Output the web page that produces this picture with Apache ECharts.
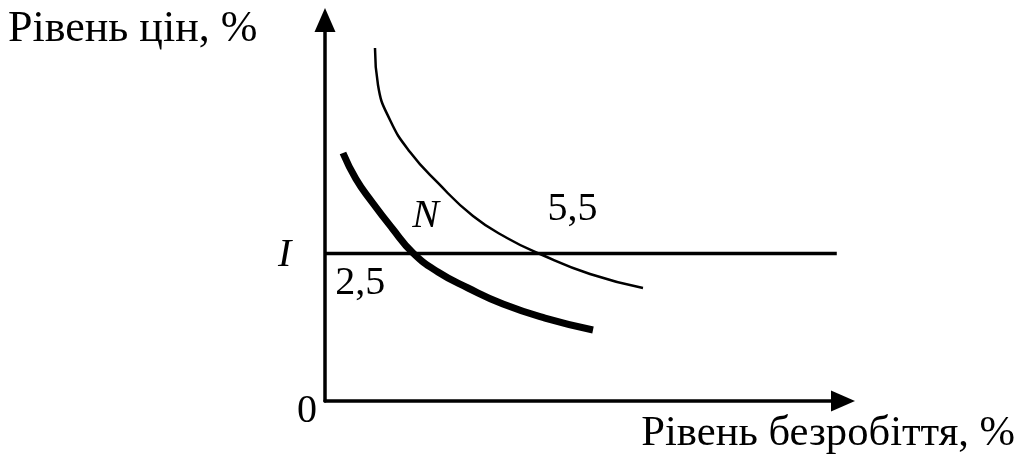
<!DOCTYPE html>
<html>
<head>
<meta charset="utf-8">
<title>Рівень цін і безробіття</title>
<script src="https://cdn.jsdelivr.net/npm/echarts@6/dist/echarts.min.js"></script>
<style>
  html, body { margin: 0; padding: 0; background: #fff; }
  #chart { width: 1020px; height: 457px; }
</style>
</head>
<body>
<div id="chart"></div>
<script>
// крива "2,5" (жирна)
var lowCurveX = [3.47, 5.98, 9.07, 12.93, 16.99, 21.81, 27.61, 34.36, 42.47, 51.74];
var lowCurveY = [65.09, 58.27, 52.23, 45.41, 38.85, 33.86, 29.66, 25.46, 21.78, 18.64];

// крива "5,5" (тонка)
var highCurveX = [9.65, 10.23, 12.55, 16.41, 21.81, 28.57, 35.14, 41.51, 51.16, 61.39];
var highCurveY = [92.65, 82.94, 73.75, 65.35, 57.22, 48.56, 42.78, 38.58, 33.33, 29.66];

// рівень I
var levelI = 38.7;
var levelLineEnd = 98.8;

// підписи на графіку
var noteText = ['5,5', 'N', '2,5', 'I'];
var noteX = [47.9, 19.5, 6.9, -7.7];
var noteY = [50.2, 48.3, 30.6, 38.0];
var noteItalic = [false, true, false, true];

// назви осей
var yAxisTitle = 'Рівень цін, %';
var xAxisTitle = 'Рівень безробіття, %';

var FONT = 'Liberation Serif';

function zip(xs, ys) {
  return xs.map(function (x, i) { return [x, ys[i]]; });
}

var chart = echarts.init(document.getElementById('chart'));

var axisLine = {
  show: true,
  symbol: ['none', 'triangle'],
  symbolSize: [21, 24],
  lineStyle: { color: '#000', width: 3.5 }
};

var option = {
  animation: false,
  title: [
    {
      text: yAxisTitle,
      left: 8,
      top: 7,
      padding: 0,
      textStyle: { fontFamily: FONT, fontSize: 44, fontWeight: 'normal', color: '#000' }
    },
    {
      text: xAxisTitle,
      right: 5,
      top: 412,
      padding: 0,
      textStyle: { fontFamily: FONT, fontSize: 42.6, fontWeight: 'normal', color: '#000' }
    }
  ],
  grid: {
    left: 325,
    right: 177,
    top: 20,
    bottom: 56,
    containLabel: false,
    outerBoundsMode: 'none'
  },
  xAxis: {
    type: 'value',
    min: 0,
    max: 100,
    axisLine: axisLine,
    axisTick: { show: false },
    axisLabel: { show: false },
    splitLine: { show: false }
  },
  yAxis: {
    type: 'value',
    min: 0,
    max: 100,
    interval: 100,
    axisLine: axisLine,
    axisTick: { show: false },
    axisLabel: {
      margin: 8,
      fontFamily: FONT,
      fontSize: 40,
      color: '#000',
      verticalAlign: 'top',
      lineHeight: 20,
      showMaxLabel: false,
      formatter: function (v) { return v === 0 ? '0' : ''; }
    },
    splitLine: { show: false }
  },
  series: [
    {
      name: '2,5',
      type: 'line',
      smooth: 0.5,
      symbol: 'none',
      lineStyle: { color: '#000', width: 7 },
      data: zip(lowCurveX, lowCurveY)
    },
    {
      name: '5,5',
      type: 'line',
      smooth: 0.5,
      symbol: 'none',
      lineStyle: { color: '#000', width: 2.5 },
      data: zip(highCurveX, highCurveY)
    },
    {
      name: 'I',
      type: 'line',
      symbol: 'none',
      lineStyle: { color: '#000', width: 3.5 },
      data: [[0, levelI], [levelLineEnd, levelI]]
    },
    {
      name: 'підписи',
      type: 'scatter',
      clip: false,
      symbolSize: 1,
      itemStyle: { color: '#000', opacity: 0 },
      label: {
        show: true,
        position: [0, 0],
        align: 'center',
        verticalAlign: 'middle',
        fontFamily: FONT,
        fontSize: 40,
        color: '#000',
        opacity: 1,
        formatter: function (p) { return p.data.value[2]; }
      },
      data: noteText.map(function (t, i) {
        return {
          value: [noteX[i], noteY[i], t],
          label: { fontStyle: noteItalic[i] ? 'italic' : 'normal' }
        };
      })
    }
  ]
};

chart.setOption(option);
</script>
</body>
</html>
